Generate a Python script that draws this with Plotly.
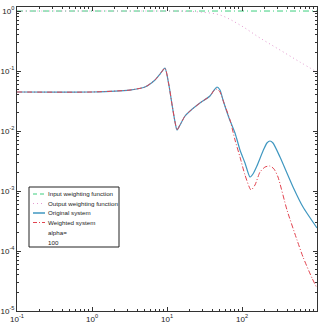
import plotly.graph_objects as go

# ---- data ----
freq_flat = [0.1, 1000]
input_weight = [1.0, 1.0]

freq_out = [0.1, 10, 14.9, 20, 27.5, 50.9, 94, 174, 321, 593, 1000]
output_weight = [1.0, 1.0, 0.998, 0.985, 0.962, 0.858, 0.585, 0.355, 0.224, 0.141, 0.096]

freq_orig = [0.1, 1, 3.21, 5.09, 6.92, 8.07, 9.4, 10.6, 11.7, 12.8, 13.6, 14.9, 17.4, 20.3,
             27.5, 37.4, 42.4, 46.4, 50.9, 55.8, 67.1, 80.7, 94, 109.6, 127.8, 140, 158,
             190.5, 215, 236, 259, 321, 479, 651, 1000]
orig_sys = [0.0447, 0.0447, 0.0482, 0.0541, 0.0708, 0.0891, 0.112, 0.0584, 0.0271, 0.0141,
            0.0104, 0.0126, 0.0178, 0.0216, 0.0293, 0.0383, 0.0482, 0.0541, 0.0482, 0.0329,
            0.0165, 0.00927, 0.00483, 0.00293, 0.00171, 0.00192, 0.00261, 0.00464, 0.00631,
            0.00681, 0.00631, 0.00369, 0.00117, 0.00054, 0.000242]

freq_wt = [0.1, 1, 3.21, 5.09, 6.92, 8.07, 9.4, 10.6, 11.7, 12.8, 13.6, 14.9, 17.4, 20.3,
           27.5, 37.4, 42.4, 46.4, 50.9, 57.5, 69.2, 80.7, 94, 109.6, 131.8, 149, 173.8,
           202.8, 236, 267, 302, 398, 541, 651, 857, 1000]
wt_sys = [0.0447, 0.0447, 0.0482, 0.0541, 0.0708, 0.0891, 0.112, 0.0584, 0.0271, 0.0141,
          0.0104, 0.0126, 0.0178, 0.0216, 0.0293, 0.0383, 0.0475, 0.0501, 0.0447, 0.0293,
          0.0153, 0.00708, 0.00369, 0.00185, 0.00104, 0.00126, 0.00207, 0.00251, 0.00261,
          0.00233, 0.00171, 0.000482, 0.000153, 7.94e-5, 3.55e-5, 2.4e-5]

x_tickvals = [0.1, 1, 10, 100, 1000]
x_ticktext = ["10<sup>-1</sup>", "10<sup>0</sup>", "10<sup>1</sup>", "10<sup>2</sup>", "10<sup>3</sup>"]
y_tickvals = [1e-5, 1e-4, 1e-3, 1e-2, 1e-1, 1]
y_ticktext = ["10<sup>-5</sup>", "10<sup>-4</sup>", "10<sup>-3</sup>", "10<sup>-2</sup>",
              "10<sup>-1</sup>", "10<sup>0</sup>"]

legend_labels = ["Input weighting function", "Output weighting function",
                 "Original system", "Weighted system", "alpha=", "100"]

# ---- styles ----
W, H = 318, 324
ML, MR, MT, MB = 17, 1, 7, 13
C_IN = "#3ccf7e"
C_OUT = "#e49ad0"
C_ORIG = "#3f97c0"
C_WT = "#e2434f"
D_IN = "6px,3px,1px,3px"
D_WT = "5px,2px,1px,2px"
FONT = "Liberation Sans, Arial"


def minor_vals(decades):
    return [m * d for d in decades for m in range(2, 10)]


fig = go.Figure()
fig.add_trace(go.Scatter(x=freq_flat, y=input_weight, mode="lines",
                         line=dict(color=C_IN, width=1, dash=D_IN)))
fig.add_trace(go.Scatter(x=freq_out, y=output_weight, mode="lines",
                         line=dict(color=C_OUT, width=1, dash="1px,3px", shape="spline")))
fig.add_trace(go.Scatter(x=freq_orig, y=orig_sys, mode="lines",
                         line=dict(color=C_ORIG, width=1.2, shape="spline", smoothing=0.6)))
fig.add_trace(go.Scatter(x=freq_wt, y=wt_sys, mode="lines",
                         line=dict(color=C_WT, width=1, dash=D_WT, shape="spline", smoothing=0.6)))

axis_common = dict(type="log", showgrid=False, automargin=False,
                   zeroline=False, showline=True, linecolor="#333", linewidth=1,
                   mirror="allticks", ticks="inside", ticklen=4, tickcolor="#333",
                   tickfont=dict(family=FONT, size=8, color="#222"))
fig.update_xaxes(range=[-1, 3], tickvals=x_tickvals, ticktext=x_ticktext,
                 minor=dict(tickvals=minor_vals(x_tickvals[:-1]), ticks="inside",
                            ticklen=2, tickcolor="#333", showgrid=False),
                 **axis_common)
fig.update_yaxes(range=[-5, 0.067], tickvals=y_tickvals, ticktext=y_ticktext,
                 minor=dict(tickvals=minor_vals(y_tickvals), ticks="inside",
                            ticklen=2, tickcolor="#333", showgrid=False),
                 **axis_common)

pw, ph = W - ML - MR, H - MT - MB


def px(x):
    return (x - ML) / pw


def py(y):
    return (H - MB - y) / ph


# manual legend box
shapes = [dict(type="rect", xref="paper", yref="paper", x0=px(29), x1=px(119),
               y0=py(247), y1=py(187), line=dict(color="#222", width=1),
               fillcolor="white", layer="above")]
styles = [(C_IN, 1, "4px,3px"), (C_OUT, 1, "1px,3px"), (C_ORIG, 1.5, "solid"),
          (C_WT, 1, "4px,2px,1px,2px")]
row_y = [194, 203.5, 213, 222.5, 232.5, 242]
anns = []
for i, lab in enumerate(legend_labels):
    if i < len(styles):
        c, w, d = styles[i]
        shapes.append(dict(type="line", xref="paper", yref="paper", x0=px(33), x1=px(45),
                           y0=py(row_y[i]), y1=py(row_y[i]),
                           line=dict(color=c, width=w, dash=d), layer="above"))
    anns.append(dict(text=lab, xref="paper", yref="paper", x=px(47), y=py(row_y[i]),
                     xanchor="left", yanchor="middle", showarrow=False, borderpad=0,
                     font=dict(family=FONT, size=6.2, color="#222")))

fig.update_layout(width=W, height=H, margin=dict(l=ML, r=MR, t=MT, b=MB),
                  paper_bgcolor="white", plot_bgcolor="white", showlegend=False,
                  shapes=shapes, annotations=anns)
fig.write_html("out.html")
